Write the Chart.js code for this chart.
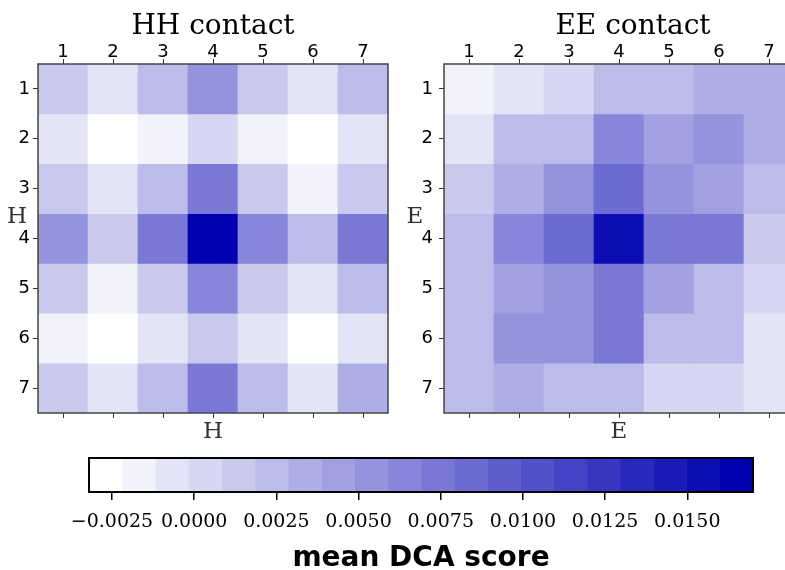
<!DOCTYPE html>
<html>
<head>
<meta charset="utf-8">
<title>mean DCA score</title>
<script src="https://cdn.jsdelivr.net/npm/chart.js@4.4.0/dist/chart.umd.min.js"></script>
<style>
  html, body { margin: 0; padding: 0; background: #fff; overflow: hidden; }
  body { width: 785px; height: 570px; position: relative; }
  .box { position: absolute; }
</style>
</head>
<body>
<div class="box" style="left:0;top:0;width:395px;height:450px"><canvas id="hhChart"></canvas></div>
<div class="box" style="left:395px;top:0;width:420px;height:450px"><canvas id="eeChart"></canvas></div>
<div class="box" style="left:0;top:445px;width:785px;height:125px"><canvas id="cbarChart"></canvas></div>
<script>
const colLabels = ["1", "2", "3", "4", "5", "6", "7"];
const rowLabels = ["1", "2", "3", "4", "5", "6", "7"];

// mean DCA score per cell, rows top to bottom
const hhScores = [
  [0.0013, -0.0007, 0.0024, 0.0054, 0.0013, -0.0007, 0.0024],
  [-0.0007, -0.0027, -0.0017, 0.0003, -0.0017, -0.0027, -0.0007],
  [0.0013, -0.0007, 0.0024, 0.0074, 0.0013, -0.0017, 0.0013],
  [0.0054, 0.0013, 0.0074, 0.0165, 0.0064, 0.0024, 0.0074],
  [0.0013, -0.0017, 0.0013, 0.0064, 0.0013, -0.0007, 0.0024],
  [-0.0017, -0.0027, -0.0007, 0.0013, -0.0007, -0.0027, -0.0007],
  [0.0013, -0.0007, 0.0024, 0.0074, 0.0024, -0.0007, 0.0034],
];

const eeScores = [
  [-0.0017, -0.0007, 0.0003, 0.0024, 0.0024, 0.0034, 0.0034],
  [-0.0007, 0.0024, 0.0024, 0.0064, 0.0044, 0.0054, 0.0034],
  [0.0013, 0.0034, 0.0054, 0.0084, 0.0054, 0.0044, 0.0024],
  [0.0024, 0.0064, 0.0084, 0.0155, 0.0074, 0.0074, 0.0013],
  [0.0024, 0.0044, 0.0054, 0.0074, 0.0044, 0.0024, 0.0003],
  [0.0024, 0.0054, 0.0054, 0.0074, 0.0024, 0.0024, -0.0007],
  [0.0024, 0.0034, 0.0024, 0.0024, 0.0003, 0.0003, -0.0007],
];

const cbarTicks = [-0.0025, 0, 0.0025, 0.005, 0.0075, 0.01, 0.0125, 0.015];
const cbarMin = -0.0032;
const cbarMax = 0.0170;
const nLevels = 20;

const darkBlue = [0, 0, 176];
const levelStep = (cbarMax - cbarMin) / nLevels;

const levelColor = (k) => {
  const t = k / (nLevels - 1);
  const c = [255, 255, 255].map((w, i) => Math.round(w + (darkBlue[i] - w) * t));
  return `rgb(${c[0]}, ${c[1]}, ${c[2]})`;
};

const scoreColor = (v) => {
  let k = Math.floor((v - cbarMin) / levelStep);
  k = Math.max(0, Math.min(nLevels - 1, k));
  return levelColor(k);
};

// outline round the plot area
const framePlugin = {
  id: "frame",
  afterDatasetsDraw(chart, args, opts) {
    const { ctx, chartArea: a } = chart;
    ctx.save();
    ctx.strokeStyle = opts.color;
    ctx.lineWidth = opts.width;
    ctx.strokeRect(a.left, a.top, a.right - a.left, a.bottom - a.top);
    ctx.restore();
  },
};

// panel title and the upright axis name left of the y ticks
const panelTextPlugin = {
  id: "panelText",
  afterDraw(chart, args, opts) {
    if (!opts.title) return;
    const { ctx, chartArea: a } = chart;
    ctx.save();
    ctx.textAlign = "center";
    ctx.textBaseline = "alphabetic";
    ctx.fillStyle = "#000";
    ctx.font = "28px 'DejaVu Serif'";
    ctx.fillText(opts.title, (a.left + a.right) / 2 + opts.titleDx, 34);
    ctx.fillStyle = "#333";
    ctx.font = "23px 'DejaVu Serif'";
    ctx.fillText(opts.side, opts.sideX, (a.top + a.bottom) / 2 - 16);
    ctx.restore();
  },
};

Chart.register(framePlugin, panelTextPlugin);

const tickFont = { family: "DejaVu Sans", size: 18 };
const tickGrid = { drawOnChartArea: false, offset: false, tickLength: 5, tickColor: "#333", lineWidth: 1 };

const makeHeatmap = (canvasId, scores, title, axisName, leftWidth, rightPad, labelPad, sideX, titleDx) => {
  const ctx = document.getElementById(canvasId).getContext("2d");
  return new Chart(ctx, {
    type: "bar",
    data: {
      labels: colLabels,
      datasets: scores.map((row, r) => ({
        label: rowLabels[r],
        data: row.map(() => 1),
        backgroundColor: row.map(scoreColor),
        borderWidth: 0,
        barPercentage: 1,
        categoryPercentage: 1,
        xAxisID: "x",
        yAxisID: "y",
      })),
    },
    options: {
      responsive: true,
      maintainAspectRatio: false,
      animation: false,
      layout: { padding: { left: 0, right: rightPad, top: 40, bottom: 0 } },
      plugins: {
        legend: { display: false },
        tooltip: { enabled: false },
        frame: { color: "#444", width: 1.5 },
        panelText: { title: title, titleDx: titleDx, side: axisName, sideX: sideX },
      },
      scales: {
        x: {
          type: "category",
          position: "top",
          stacked: true,
          grid: tickGrid,
          border: { display: false },
          ticks: { font: tickFont, color: "#000", padding: -4, maxRotation: 0 },
          afterFit: (s) => { s.height = 24; },
        },
        xb: {
          type: "category",
          position: "bottom",
          labels: colLabels,
          grid: tickGrid,
          border: { display: false },
          ticks: { callback: () => "", font: tickFont },
          title: {
            display: true,
            text: axisName,
            color: "#333",
            font: { family: "DejaVu Serif", size: 23 },
            padding: { top: 0, bottom: 4 },
          },
          afterFit: (s) => { s.height = 37; },
        },
        y: {
          type: "linear",
          min: 0,
          max: 7,
          reverse: true,
          stacked: true,
          grid: tickGrid,
          border: { display: false },
          afterBuildTicks: (s) => {
            s.ticks = rowLabels.map((l, i) => ({ value: i + 0.5 }));
          },
          ticks: {
            font: tickFont,
            color: "#000",
            padding: labelPad,
            callback: (v) => rowLabels[Math.floor(v)],
          },
          afterFit: (s) => { s.width = leftWidth; },
        },
      },
    },
  });
};

const hhChart = makeHeatmap("hhChart", hhScores, "HH contact", "H", 38, 7, 3, 17, 0);
const eeChart = makeHeatmap("eeChart", eeScores, "EE contact", "E", 49, 21, 6, 20, 14);

const formatScore = (v) => (v < 0 ? "\u2212" : "") + Math.abs(v).toFixed(4);

const cbarCtx = document.getElementById("cbarChart").getContext("2d");
const cbarChart = new Chart(cbarCtx, {
  type: "bar",
  data: {
    labels: ["mean DCA score"],
    datasets: [...Array(nLevels).keys()].map((k) => ({
      data: [[cbarMin + k * levelStep, cbarMin + (k + 1) * levelStep]],
      backgroundColor: levelColor(k),
      borderWidth: 0,
      grouped: false,
      barPercentage: 1,
      categoryPercentage: 1,
    })),
  },
  options: {
    indexAxis: "y",
    responsive: true,
    maintainAspectRatio: false,
    animation: false,
    layout: { padding: { left: 89, right: 32, top: 13, bottom: 0 } },
    plugins: {
      legend: { display: false },
      tooltip: { enabled: false },
      frame: { color: "#000", width: 2 },
    },
    scales: {
      x: {
        type: "linear",
        min: cbarMin,
        max: cbarMax,
        grid: { drawOnChartArea: false, tickLength: 8, tickColor: "#000", lineWidth: 1.5 },
        border: { display: false },
        afterBuildTicks: (s) => {
          s.ticks = cbarTicks.map((v) => ({ value: v }));
        },
        ticks: {
          font: { family: "DejaVu Serif", size: 19 },
          color: "#000",
          padding: 11,
          maxRotation: 0,
          autoSkip: false,
          callback: (v) => formatScore(v),
        },
        title: {
          display: true,
          text: "mean DCA score",
          color: "#000",
          font: { family: "DejaVu Sans", size: 28, weight: "bold", lineHeight: 0.8 },
          padding: { top: 0, bottom: 0 },
        },
        afterFit: (s) => { s.height = 78; },
      },
      y: { type: "category", display: false },
    },
  },
});
</script>
</body>
</html>
